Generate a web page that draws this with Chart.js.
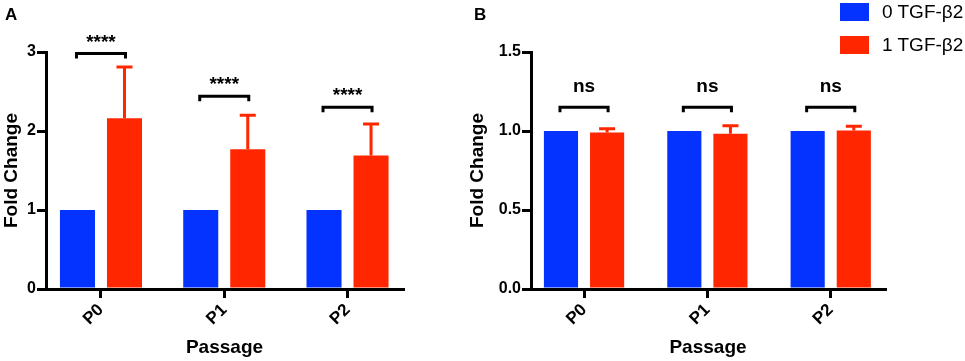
<!DOCTYPE html>
<html>
<head>
<meta charset="utf-8">
<script src="https://cdn.jsdelivr.net/npm/chart.js@4.4.1/dist/chart.umd.min.js"></script>
<style>
  body { margin: 0; background: #fff; }
  #wrap { position: relative; width: 965px; height: 361px; font-family: "Liberation Sans", Arial, sans-serif; }
  canvas { position: absolute; top: 0; }
  .tag { position: absolute; font-weight: bold; font-size: 17px; line-height: 17px; }
  .leg { position: absolute; left: 840px; display: flex; align-items: center; font-size: 19px; line-height: 18px; }
  .leg span.box { width: 29px; height: 18px; margin-right: 13px; }
</style>
</head>
<body>
<div id="wrap">
  <canvas id="chartA" width="440" height="361" style="left:0"></canvas>
  <canvas id="chartB" width="505" height="361" style="left:460px"></canvas>
  <div class="tag" style="left:5px;top:6px">A</div>
  <div class="tag" style="left:474px;top:6px">B</div>
  <div class="leg" style="top:3px"><span class="box" style="background:#0433ff"></span>0 TGF-β2</div>
  <div class="leg" style="top:36px"><span class="box" style="background:#ff2600"></span>1 TGF-β2</div>
</div>
<script>
const passages = ['P0', 'P1', 'P2'];

// panel A - fold change per passage
const ctrlA = [1, 1, 1];
const tgfA = [2.16, 1.77, 1.69];
const errA = [0.65, 0.43, 0.40];
const bracketA = [2.98, 2.44, 2.30];
const sigA = ['****', '****', '****'];

// panel B
const ctrlB = [1, 1, 1];
const tgfB = [0.99, 0.983, 1.003];
const errB = [0.025, 0.05, 0.027];
const bracketB = [1.15, 1.15, 1.15];
const sigB = ['ns', 'ns', 'ns'];

const BLUE = '#0433ff';
const RED = '#ff2600';
const FONT = '"Liberation Sans", Arial, sans-serif';
Chart.defaults.font.family = FONT;
Chart.defaults.color = '#000';

// error bars (upper only) + significance brackets
const annotate = {
  id: 'annotate',
  afterDatasetsDraw(chart, args, opts) {
    const ctx = chart.ctx;
    const y = chart.scales.y;
    const m0 = chart.getDatasetMeta(0);
    const m1 = chart.getDatasetMeta(1);
    ctx.save();
    ctx.lineWidth = 3;
    ctx.lineCap = 'butt';
    ctx.strokeStyle = RED;
    m1.data.forEach((bar, i) => {
      const top = y.getPixelForValue(opts.values[i] + opts.errors[i]);
      ctx.beginPath();
      ctx.moveTo(bar.x, bar.y);
      ctx.lineTo(bar.x, top);
      ctx.moveTo(bar.x - 8, top);
      ctx.lineTo(bar.x + 8, top);
      ctx.stroke();
    });
    ctx.strokeStyle = '#000';
    ctx.fillStyle = '#000';
    ctx.textAlign = 'center';
    ctx.textBaseline = 'alphabetic';
    ctx.font = opts.font;
    m0.data.forEach((bar, i) => {
      const x1 = bar.x - 1;
      const x2 = m1.data[i].x + 1;
      const by = y.getPixelForValue(opts.brackets[i]);
      ctx.beginPath();
      ctx.moveTo(x1, by + 5);
      ctx.lineTo(x1, by);
      ctx.lineTo(x2, by);
      ctx.lineTo(x2, by + 5);
      ctx.stroke();
      ctx.fillText(opts.labels[i], (x1 + x2) / 2, by - opts.gap);
    });
    ctx.restore();
  }
};

function makeChart(id, ctrl, tgf, err, brackets, labels, yOpts, layout) {
  return new Chart(document.getElementById(id), {
    type: 'bar',
    data: {
      datasets: [{
        label: '0 TGF-β2',
        data: ctrl.map((v, i) => ({ x: i, y: v })),
        backgroundColor: BLUE,
        borderWidth: 0
      }, {
        label: '1 TGF-β2',
        data: tgf.map((v, i) => ({ x: i, y: v })),
        backgroundColor: RED,
        borderWidth: 0
      }]
    },
    options: {
      responsive: false,
      animation: false,
      categoryPercentage: layout.catPct,
      barPercentage: layout.barPct,
      layout: { padding: { top: 52, right: layout.padRight, left: 0, bottom: 0 } },
      plugins: {
        legend: { display: false },
        tooltip: { enabled: false },
        annotate: {
          values: tgf, errors: err, brackets: brackets, labels: labels,
          font: layout.sigFont, gap: layout.sigGap
        }
      },
      scales: {
        x: {
          type: 'linear',
          min: layout.xMin,
          max: layout.xMax,
          offset: false,
          afterBuildTicks: (s) => { s.ticks = passages.map((p, i) => ({ value: i })); },
          afterFit: (s) => { s.height = 72; },
          grid: { offset: false, drawOnChartArea: false, tickLength: 9, lineWidth: 3, color: '#000' },
          border: { display: true, width: 3, color: '#000' },
          ticks: {
            callback: (v) => passages[v],
            minRotation: 45, maxRotation: 45,
            padding: 2,
            font: { size: 17, weight: 'bold' }
          },
          title: {
            display: true, text: 'Passage',
            font: { size: 19, weight: 'bold' },
            padding: { top: 0, bottom: 2 }
          }
        },
        y: {
          min: 0,
          max: yOpts.max,
          afterFit: (s) => { s.width = layout.yWidth; },
          grid: { drawOnChartArea: false, tickLength: 9, lineWidth: 3, color: '#000' },
          border: { display: true, width: 3, color: '#000' },
          ticks: {
            stepSize: yOpts.step,
            callback: yOpts.fmt,
            padding: 1,
            font: { size: 16, weight: 'bold' }
          },
          title: {
            display: true, text: 'Fold Change',
            font: { size: 19, weight: 'bold' },
            padding: { top: layout.titlePad, bottom: 0 }
          }
        }
      }
    },
    plugins: [annotate]
  });
}

const chartA = makeChart('chartA', ctrlA, tgfA, errA, bracketA, sigA,
  { max: 3, step: 1, fmt: (v) => v },
  { xMin: -0.446, xMax: 2.45, catPct: 0.763, barPct: 0.745, padRight: 37, yWidth: 46,
    titlePad: 0, sigFont: 'bold 19px ' + FONT, sigGap: 6 });

const chartB = makeChart('chartB', ctrlB, tgfB, errB, bracketB, sigB,
  { max: 1.5, step: 0.5, fmt: (v) => v.toFixed(1) },
  { xMin: -0.43, xMax: 2.44, catPct: 0.748, barPct: 0.74, padRight: 80, yWidth: 71,
    titlePad: 6, sigFont: 'bold 19px ' + FONT, sigGap: 15 });
</script>
</body>
</html>
